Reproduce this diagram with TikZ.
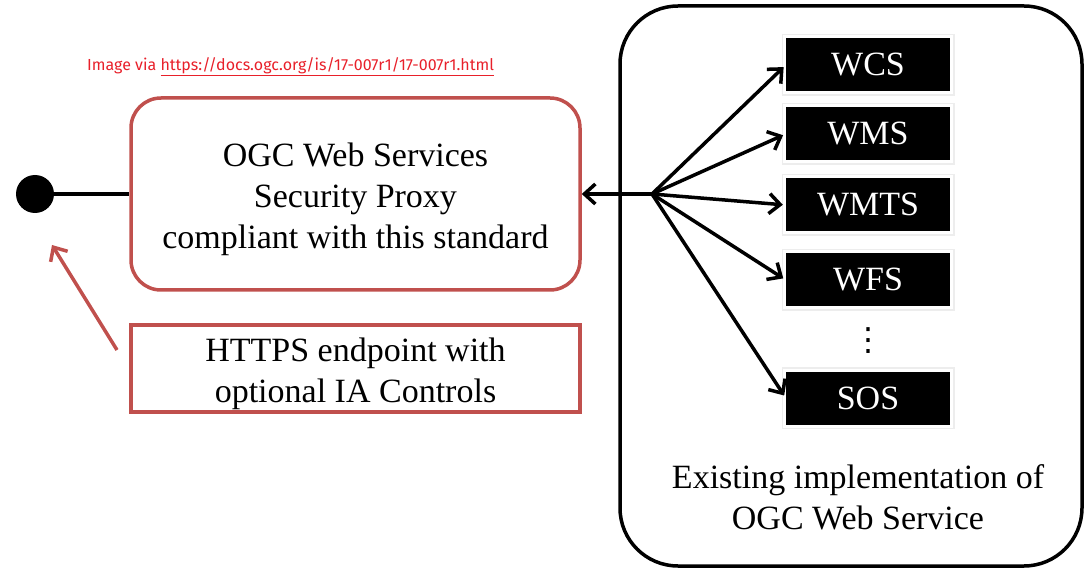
\documentclass[tikz,border=0pt]{standalone}
\usepackage{fontspec}
\setmainfont{Liberation Serif}
\newfontfamily\notefont{Fira Sans}
\newfontfamily\symfont{DejaVu Sans}
\usetikzlibrary{arrows.meta}
\definecolor{proxyred}{RGB}{192,80,77}
\definecolor{notered}{RGB}{232,32,42}
\newcommand{\bigtext}{\fontsize{34}{41}\selectfont}
\newcommand{\svcx}{868}
\newcommand{\boxw}{449}

\begin{document}
\begin{tikzpicture}[x=1pt, y=-1pt, >={Straight Barb[length=11pt,width=20pt]},
    redbox/.style={draw=proxyred, line width=3.5pt, align=center, font=\bigtext, inner sep=0pt},
    svc/.style={fill=black, text=white, font=\bigtext, inner sep=0pt,
        minimum width=164pt, minimum height=53pt,
        preaction={draw=black!7, double=white, double distance=6pt, line width=1.5pt}},
    wire/.style={line width=3.5pt}]
    \useasboundingbox (0, 0) rectangle (1085, 572);

    % source note
    \node [anchor=west, text=notered, font=\notefont\fontsize{16}{19}\selectfont, inner sep=0pt] (note) at (87, 67)
        {Image via \underline{https://docs.ogc.org/is/17-007r1/17-007r1.html}};

    % proxy side
    \node [redbox, rounded corners=30pt, minimum width=\boxw pt, minimum height=192pt] (proxy) at (355.5, 194)
        {\raisebox{-5pt}[\height][\depth]{\begin{tabular}{@{}c@{}}OGC Web Services\\Security Proxy\\compliant with this standard\end{tabular}}};
    \node [redbox, minimum width=\boxw pt, minimum height=87pt] (https) at (355.5, 368.5)
        {\raisebox{-5pt}[\height][\depth]{\begin{tabular}{@{}c@{}}HTTPS endpoint with\\optional IA Controls\end{tabular}}};
    \node [circle, fill=black, minimum size=38pt, inner sep=0pt] (port) at (35, 194) {};

    % existing service
    \node [draw=black, line width=3.5pt, rounded corners=58pt, minimum width=462pt, minimum height=560pt] (impl) at (851, 286) {};
    \node [svc] (wcs) at (\svcx, 65) {WCS};
    \node [svc] (wms) at (\svcx, 134) {WMS};
    \node [svc] (wmts) at (\svcx, 205) {WMTS};
    \node [svc] (wfs) at (\svcx, 280) {WFS};
    \node [font=\symfont\fontsize{32}{38}\selectfont, inner sep=0pt] (dots) at (\svcx, 341) {⋮};
    \node [svc] (sos) at (\svcx, 398) {SOS};
    \node [align=center, font=\bigtext] (label) at (858, 497) {Existing implementation of\\OGC Web Service};

    % connectors
    \coordinate (hub) at (652, 194);
    \coordinate (tail) at (117, 350);
    \coordinate (tip) at (52, 245);
    \draw [wire] (port) -- (proxy.west);
    \draw [wire, <-] (proxy.east) -- (hub);
    \foreach \s in {wcs, wms, wmts, wfs, sos}
        \draw [wire, ->, shorten >=3pt] (hub) -- (\s.west);
    \draw [wire, ->, proxyred] (tail) -- (tip);
\end{tikzpicture}
\end{document}
